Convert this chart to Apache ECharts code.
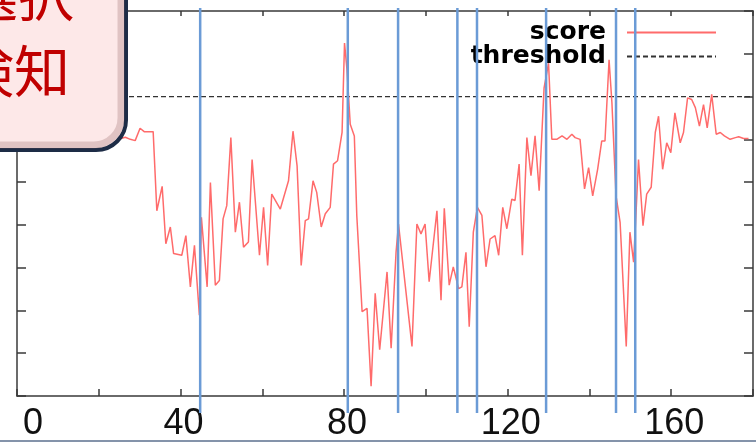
<!DOCTYPE html>
<html>
<head>
<meta charset="utf-8">
<title>score / threshold</title>
<script src="https://cdn.jsdelivr.net/npm/echarts@6/dist/echarts.min.js"></script>
<style>
  html, body { margin: 0; padding: 0; background: #fff; }
  #chart { width: 756px; height: 442px; }
</style>
</head>
<body>
<div id="chart"></div>
<script>
// 数据
var scoreX = [0, 8, 16, 22, 24.8, 26.5, 27.7, 28.9, 30.1, 31.1, 33.3, 34.2, 35.5, 36.4, 37.5, 38.3,
  40.3, 41.3, 42.4, 43.4, 44.6, 45.1, 46.5, 47.3, 48.5, 49.5, 50.4, 51.3, 52.3, 53.4, 54.4, 55.4, 56.6,
  57.5, 59.3, 60.3, 61.3, 62.3, 64.4, 66.4, 67.5, 68.5, 69.5, 70.5, 71.3, 72.4, 73.3, 74.4, 75.4, 76.6,
  77.4, 78.4, 79.5, 80.1, 80.7, 81.5, 82.5, 83.1, 84.4, 85.6, 86.6, 87.6, 88.7, 90.5, 91.5, 92.7, 93.3,
  96.6, 97.8, 98.8, 99.8, 100.8, 102.7, 103.7, 104.5, 105.7, 106.7, 108.0, 108.8, 109.8, 110.6, 111.6,
  112.6, 113.7, 114.7, 115.7, 116.9, 117.8, 118.8, 119.8, 121.0, 121.8, 122.8, 123.6, 124.7, 125.7,
  126.7, 127.7, 128.9, 130.0, 130.8, 132.0, 133.3, 134.5, 135.7, 136.5, 137.7, 138.8, 139.8, 140.8,
  142.0, 143.0, 143.8, 144.8, 145.5, 146.5, 147.5, 149.0, 149.9, 150.8, 151.4, 152.0, 153.1, 154.0,
  155.1, 156.1, 156.9, 157.9, 158.9, 159.9, 160.9, 162.2, 163.0, 164.0, 165.0, 165.9, 166.9, 167.9,
  168.8, 169.9, 171.0, 172.0, 173.0, 174.4, 175.7, 176.5, 177.7, 178.9];
var scoreY = [6.0, 6.05, 5.98, 6.02, 6.0, 6.05, 6.0, 5.97, 6.26, 6.18, 6.18, 4.33, 4.9, 3.56, 3.95, 3.33,
  3.29, 3.75, 2.55, 3.52, 1.89, 4.18, 2.55, 4.99, 2.59, 2.7, 4.14, 4.45, 6.04, 3.83, 4.53, 3.48, 3.6,
  5.53, 3.29, 4.41, 3.05, 4.72, 4.37, 5.03, 6.19, 5.38, 3.05, 4.1, 4.14, 5.03, 4.76, 3.95, 4.26, 4.41,
  5.42, 5.5, 6.16, 8.25, 7.63, 6.35, 6.08, 4.22, 1.97, 2.05, 0.23, 2.4, 1.08, 2.9, 1.12, 3.36, 4.02,
  1.16, 4.02, 3.79, 4.02, 2.67, 4.33, 2.24, 4.39, 2.59, 3.02, 2.51, 2.55, 3.36, 1.62, 3.83,
  4.41, 4.22, 3.02, 3.67, 3.75, 3.29, 4.41, 3.91, 4.6, 4.57, 5.42, 3.29, 6.04, 5.15,
  6.08, 4.8, 7.2, 7.78, 6.0, 6.0, 6.08, 6.0, 6.12, 6.04, 6.0, 4.84, 5.34, 4.68,
  5.3, 5.96, 5.96, 7.86, 6.85, 4.68, 4.06, 1.16, 3.83, 3.13, 4.29, 5.53, 3.98, 4.72,
  4.88, 6.16, 6.54, 5.3, 5.92, 5.69, 6.62, 5.92, 6.16, 6.97, 6.93, 6.74, 6.31, 6.81,
  6.27, 7.05, 6.12, 6.16, 6.08, 6.0, 6.04, 6.06, 6.02, 6.02];
var thresholdValue = 7;
var markerX = [44.8, 80.9, 93.2, 107.7, 112.5, 129.4, 146.5, 151.2];
var xLabels = [0, 40, 80, 120, 160];
var boxLines = ['選択', '検知'];

var chart = echarts.init(document.getElementById('chart'));

var scoreData = scoreX.map(function (x, i) { return [x, scoreY[i]]; });
var thresholdData = [[0, thresholdValue], [180, thresholdValue]];
var markerData = markerX.map(function (x) { return [x]; });

var axisColor = '#3a3a3a';
function frameLine() {
  return { show: true, onZero: false, lineStyle: { color: axisColor, width: 1.5 } };
}
function frameTick(len) {
  return { show: true, inside: true, length: len, lineStyle: { color: axisColor, width: 1.5 } };
}
var legendText = { fontFamily: 'DejaVu Sans', fontWeight: 'bold', fontSize: 25, color: '#000', padding: [0, 16, 0, 0] };

var option = {
  animation: false,
  grid: { left: 17, right: 3, top: 11, bottom: 44 },
  legend: [
    {
      data: ['score'], right: 34, top: 15, orient: 'vertical', align: 'right',
      itemWidth: 89, itemHeight: 14, itemStyle: { opacity: 0 }, textStyle: legendText
    },
    {
      data: ['threshold'], right: 34, top: 39, orient: 'vertical', align: 'right',
      itemWidth: 89, itemHeight: 14, itemStyle: { opacity: 0 }, textStyle: legendText
    }
  ],
  xAxis: [
    {
      type: 'value', min: 0, max: 180, interval: 20, position: 'bottom',
      axisLine: frameLine(), axisTick: frameTick(7),
      splitLine: { show: false },
      axisLabel: {
        margin: 10, fontFamily: 'Liberation Sans', fontSize: 36, color: '#111',
        padding: [0, 0, 0, 6], alignMinLabel: 'left',
        formatter: function (v) { return xLabels.indexOf(v) >= 0 ? String(v) : ''; }
      }
    },
    {
      type: 'value', min: 0, max: 180, interval: 20, position: 'top',
      axisLine: frameLine(), axisTick: frameTick(5),
      splitLine: { show: false }, axisLabel: { show: false }
    }
  ],
  yAxis: [
    {
      type: 'value', min: 0, max: 9, interval: 1, position: 'left',
      axisLine: frameLine(), axisTick: frameTick(9),
      splitLine: { show: false }, axisLabel: { show: false }
    },
    {
      type: 'value', min: 0, max: 9, interval: 1, position: 'right',
      axisLine: frameLine(), axisTick: frameTick(9),
      splitLine: { show: false }, axisLabel: { show: false }
    }
  ],
  series: [
    {
      name: 'score', type: 'line', data: scoreData, symbol: 'none',
      lineStyle: { color: '#ff6b6b', width: 1.5 }, itemStyle: { color: '#ff6b6b' }, z: 3
    },
    {
      name: 'threshold', type: 'line', data: thresholdData, symbol: 'none',
      lineStyle: { color: '#333', width: 1.3, type: [5, 3] }, itemStyle: { color: '#333' }, z: 2
    },
    {
      // 蓝色竖线（超出坐标区一点）
      name: 'marker', type: 'custom', data: markerData, clip: false, z: 5,
      renderItem: function (params, api) {
        var top = api.coord([api.value(0), 9]);
        var bottom = api.coord([api.value(0), 0]);
        return {
          type: 'line',
          shape: { x1: top[0], y1: top[1] - 3, x2: bottom[0], y2: bottom[1] + 17 },
          style: { stroke: '#6b9bd6', lineWidth: 2.5 }
        };
      }
    }
  ],
  graphic: [
    {
      type: 'rect', z: 100,
      shape: { x: -40, y: -40, width: 166, height: 190, r: 30 },
      style: { fill: '#fde8e8', stroke: '#1d2c46', lineWidth: 4 }
    },
    {
      type: 'rect', z: 100,
      shape: { x: -40, y: -40, width: 161, height: 185, r: 27 },
      style: { fill: 'none', stroke: 'rgba(150,100,100,0.28)', lineWidth: 7 }
    },
    {
      type: 'text', z: 101, left: -38, top: -33,
      style: { text: boxLines[0], fontFamily: 'Noto Sans CJK JP', fontSize: 56, fill: '#c00000' }
    },
    {
      type: 'text', z: 101, left: -42, top: 43,
      style: { text: boxLines[1], fontFamily: 'Noto Sans CJK JP', fontSize: 56, fill: '#c00000' }
    },
    {
      type: 'rect', z: 100,
      shape: { x: 0, y: 440, width: 756, height: 2 },
      style: { fill: '#8493aa' }
    }
  ]
};

chart.setOption(option);
</script>
</body>
</html>
